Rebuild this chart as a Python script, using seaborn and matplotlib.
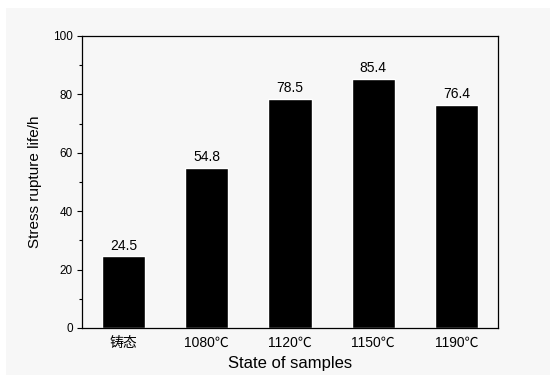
import matplotlib
matplotlib.use("Agg")
import matplotlib.pyplot as plt
import seaborn as sns
import pandas as pd
from matplotlib.patches import Rectangle
from matplotlib.ticker import MultipleLocator

# Data
states = ["铸态", "1080℃", "1120℃", "1150℃", "1190℃"]
life = [24.5, 54.8, 78.5, 85.4, 76.4]

df = pd.DataFrame({"State": states, "Life": life})

sns.set_style("ticks")
plt.rcParams["font.family"] = ["Liberation Sans", "Noto Sans CJK SC", "DejaVu Sans"]
plt.rcParams["text.color"] = "black"
plt.rcParams["axes.labelcolor"] = "black"
plt.rcParams["xtick.color"] = "black"
plt.rcParams["ytick.color"] = "black"

bg = "#f7f7f7"
fig = plt.figure(figsize=(5.55, 3.88), dpi=100)
fig.patch.set_facecolor("white")
# light grey panel behind the plot
fig.patches.append(Rectangle((6 / 555, 13 / 388), 544 / 555, 367 / 388,
                             transform=fig.transFigure, facecolor=bg,
                             edgecolor="none", zorder=-10))
ax = fig.add_axes([82 / 555, 60 / 388, 416 / 555, 292 / 388])
ax.set_facecolor(bg)

sns.barplot(data=df, x="State", y="Life", color="black", width=0.52,
            saturation=1, ax=ax)

for i, v in enumerate(life):
    ax.text(i, v + 1.2, f"{v}", ha="center", va="bottom", fontsize=10)

ax.set_xlim(-0.5, 4.5)
ax.set_ylim(0, 100)
ax.yaxis.set_major_locator(MultipleLocator(20))
ax.yaxis.set_minor_locator(MultipleLocator(10))
ax.tick_params(axis="y", which="major", length=3.5, width=0.8, labelsize=8.5, direction="out", pad=3)
ax.tick_params(axis="y", which="minor", length=2, width=0.8, direction="out")
ax.tick_params(axis="x", length=0, labelsize=10, pad=6)
for s in ax.spines.values():
    s.set_linewidth(0.9)
    s.set_color("black")

ax.set_xlabel("State of samples", fontsize=12, labelpad=4)
ax.set_ylabel("Stress rupture life/h", fontsize=11, labelpad=8)

fig.savefig("out.png", dpi=100, facecolor="white")
